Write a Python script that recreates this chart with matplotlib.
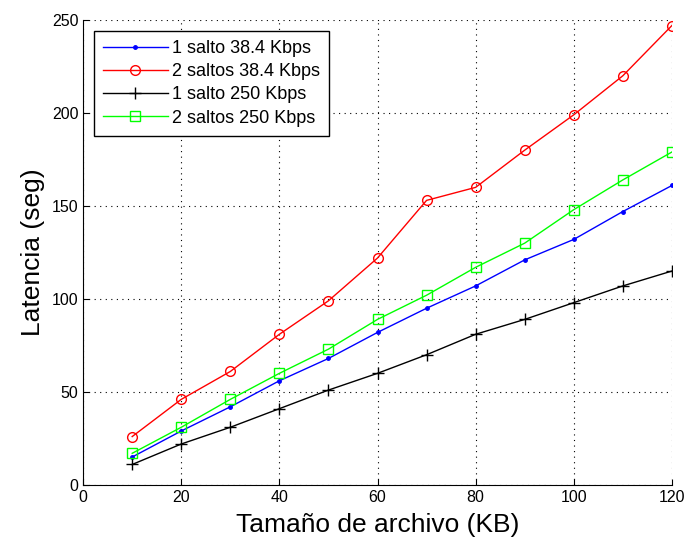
# Latencia vs tamaño de archivo
import matplotlib.pyplot as plt
import numpy as np

tamano = [10, 20, 30, 40, 50, 60, 70, 80, 90, 100, 110, 120]

# Latencias (seg)
salto1_384 = [15, 29, 42, 56, 68, 82, 95, 107, 121, 132, 147, 161]
saltos2_384 = [26, 46, 61, 81, 99, 122, 153, 160, 180, 199, 220, 247]
salto1_250 = [11, 22, 31, 41, 51, 60, 70, 81, 89, 98, 107, 115]
saltos2_250 = [17, 31, 46, 60, 73, 89, 102, 117, 130, 148, 164, 179]

etiquetas = ['1 salto 38.4 Kbps', '2 saltos 38.4 Kbps', '1 salto 250 Kbps', '2 saltos 250 Kbps']

plt.rcParams['font.family'] = ['Liberation Sans', 'DejaVu Sans']

fig = plt.figure(figsize=(6.87, 5.40), dpi=100)
ax = fig.add_axes([0.121, 0.102, 0.857, 0.861])

ax.plot(tamano, salto1_384, color='#0000ff', marker='.', markersize=5, lw=1, label=etiquetas[0])
ax.plot(tamano, saltos2_384, color='#ff0000', marker='o', markersize=7, mfc='none', lw=1, label=etiquetas[1])
ax.plot(tamano, salto1_250, color='black', marker='+', markersize=9, lw=1, label=etiquetas[2])
ax.plot(tamano, saltos2_250, color='#00ff00', marker='s', markersize=7, mfc='none', lw=1, label=etiquetas[3])

ax.set_xlim(0, 120)
ax.set_ylim(0, 250)
ax.set_xticks(np.arange(0, 121, 20))
ax.set_yticks(np.arange(0, 251, 50))
ax.grid(True, linestyle=(0, (1, 4)), color='black', linewidth=0.8)

ax.spines['top'].set_visible(False)
ax.spines['right'].set_visible(False)
ax.tick_params(direction='in', labelsize=11.5, length=4)

ax.set_xlabel('Tamaño de archivo (KB)', fontsize=19, labelpad=6)
ax.set_ylabel('Latencia (seg)', fontsize=19, labelpad=5)

leg = ax.legend(loc='upper left', fontsize=13, fancybox=False, framealpha=1,
                edgecolor='black', borderaxespad=0.6, handlelength=3.6,
                handletextpad=0.2, labelspacing=0.35, borderpad=0.5)
leg.get_frame().set_linewidth(1)

plt.savefig('out.png', dpi=100)
